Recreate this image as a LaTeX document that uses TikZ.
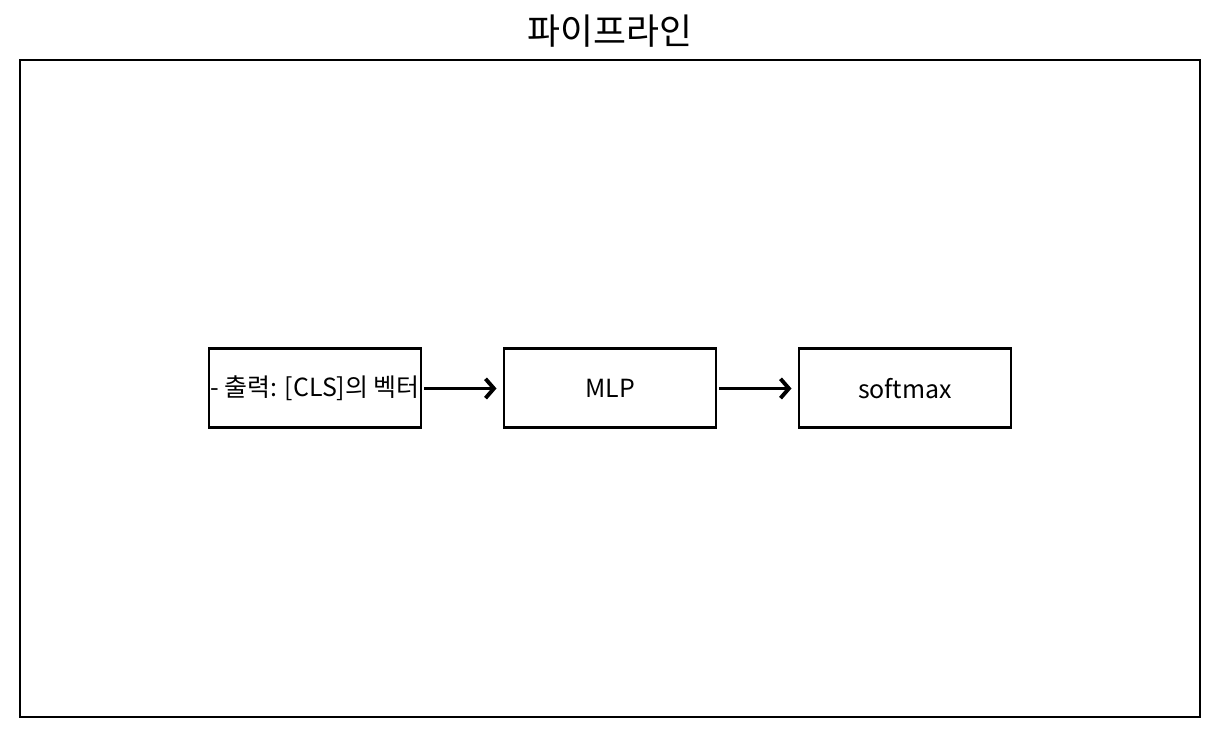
\documentclass[tikz,border=0pt]{standalone}
\usepackage{fontspec}
\setmainfont{Noto Sans CJK KR}
\usetikzlibrary{arrows.meta}
\usetikzlibrary{positioning}
\tikzset{
	stagebox/.style={draw, line width=0.85pt, minimum width=2.12cm, minimum height=0.79cm, inner sep=0pt, font=\fontsize{7.1}{8.5}\selectfont},
	flow/.style={line width=1.1pt, -{Straight Barb[length=2.4pt, width=5.5pt]}, shorten <=0.02cm, shorten >=0.06cm}
}

\begin{document}
\begin{tikzpicture}
	% canvas 1220 x 737 px, 1 px = 0.01 cm
	\useasboundingbox (0, 0) rectangle (12.2, 7.37);
	% outer frame
	\draw[line width=0.65pt] (0.2, 0.2) rectangle (12, 6.77);
	\node (title) at (6.1, 7.06) {\fontsize{10.2}{12}\selectfont 파이프라인};
	
	% pipeline stages
	\node[stagebox] (cls) at (3.15, 3.485) {\makebox[0pt]{- 출력: [CLS]의 벡터}};
	\node[stagebox] (mlp) at (6.10, 3.485) {MLP};
	\node[stagebox] (soft) at (9.05, 3.485) {softmax};
	
	\draw[flow] (cls) -- (mlp);
	\draw[flow] (mlp) -- (soft);
\end{tikzpicture}
\end{document}
